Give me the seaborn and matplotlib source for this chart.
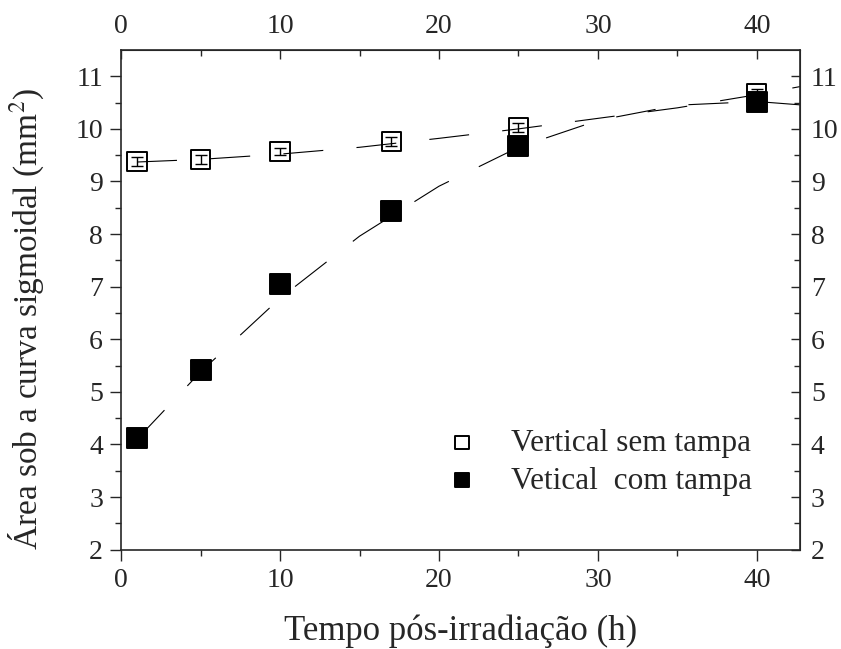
import numpy as np
import pandas as pd
import matplotlib
matplotlib.use("Agg")
import matplotlib.pyplot as plt
import seaborn as sns

# data
tempo = [1, 5, 10, 17, 25, 40]
sem_tampa = [9.38, 9.42, 9.57, 9.76, 10.03, 10.68]
sem_tampa_err = [0.08, 0.08, 0.06, 0.08, 0.08, 0.08]
com_tampa = [4.12, 5.42, 7.05, 8.43, 9.67, 10.51]

# fitted curves
fit_x = [1, 5, 10, 15, 20, 25, 30, 35, 40, 43]
fit_sem = [9.37, 9.42, 9.52, 9.65, 9.82, 10.0, 10.2, 10.4, 10.65, 10.82]
fit_com = [4.10, 5.38, 6.78, 7.96, 8.91, 9.65, 10.16, 10.45, 10.52, 10.45]

sns.set_style("ticks")
plt.rcParams['font.family'] = ['Liberation Serif', 'DejaVu Serif']
plt.rcParams['mathtext.fontset'] = 'stix'

fig = plt.figure(figsize=(8.41, 6.49), dpi=100)
ax = fig.add_axes([0.144, 0.153, 0.807, 0.77])

fits = pd.DataFrame({'x': fit_x * 2,
                     'y': fit_sem + fit_com,
                     'serie': ['sem'] * len(fit_x) + ['com'] * len(fit_x)})
sns.lineplot(data=fits, x='x', y='y', hue='serie', style='serie',
             palette=['black', 'black'], dashes=[(36, 30), (36, 30)],
             linewidth=0.8, legend=False, ax=ax, zorder=2)

ax.errorbar(tempo, sem_tampa, yerr=sem_tampa_err, fmt='none', ecolor='black',
            elinewidth=1, capsize=4, capthick=1, zorder=3)

df = pd.DataFrame({'x': tempo, 'sem': sem_tampa, 'com': com_tampa})
sns.scatterplot(data=df, x='x', y='sem', marker='s', s=190, facecolor='none',
                edgecolor='black', linewidth=1.4, ax=ax, zorder=4,
                label='Vertical sem tampa')
sns.scatterplot(data=df, x='x', y='com', marker='s', s=190, color='black',
                edgecolor='black', linewidth=1.4, ax=ax, zorder=4,
                label='Vetical  com tampa')

ax.set_xlim(0, 42.7)
ax.set_ylim(2, 11.5)
ax.set_xticks([0, 10, 20, 30, 40])
ax.set_xticks([5, 15, 25, 35], minor=True)
ax.set_yticks(range(2, 12))
ax.set_yticks(np.arange(2.5, 11.5, 1), minor=True)
ax.tick_params(which='major', direction='out', length=8, width=1,
               labelsize=20, pad=5)
ax.tick_params(which='minor', direction='out', length=4, width=1)

top = ax.secondary_xaxis('top')
top.set_xticks([0, 10, 20, 30, 40])
top.set_xticks([5, 15, 25, 35], minor=True)
top.tick_params(which='major', direction='in', length=6.5, width=1,
                labelsize=20, pad=8)
top.tick_params(which='minor', direction='in', length=4, width=1)

right = ax.secondary_yaxis('right')
right.set_yticks(range(2, 12))
right.set_yticks(np.arange(2.5, 11.5, 1), minor=True)
right.tick_params(which='major', direction='in', length=6.5, width=1,
                  labelsize=20, pad=8)
right.tick_params(which='minor', direction='in', length=4, width=1)

for sp in ax.spines.values():
    sp.set_linewidth(1.2)
    sp.set_visible(True)

ax.set_xlabel('Tempo pós-irradiação (h)', fontsize=25, labelpad=16)
ax.set_ylabel(r'Área sob a curva sigmoidal (mm$^2$)', fontsize=24)
ax.yaxis.set_label_coords(-0.11, 0.462)

ax.legend(loc='upper left', bbox_to_anchor=(0.415, 0.298), frameon=False,
          fontsize=22.5, markerscale=0.7, handletextpad=0.55, labelspacing=0.28)

plt.savefig('out.png', dpi=100)
